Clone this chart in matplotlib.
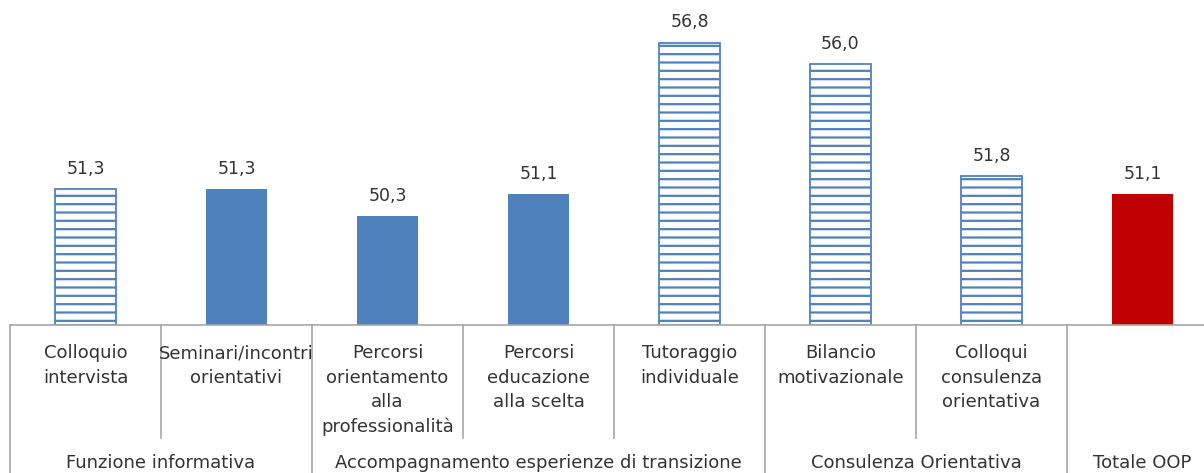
import matplotlib
matplotlib.use('Agg')
import matplotlib.pyplot as plt
import matplotlib.transforms as mtransforms

plt.rcParams['font.family'] = ['DejaVu Sans']
plt.rcParams['hatch.linewidth'] = 1.6
plt.rcParams['hatch.color'] = '#4f81bd'

# dati
categorie = ['Colloquio\nintervista', 'Seminari/incontri\norientativi',
             'Percorsi\norientamento\nalla\nprofessionalità',
             'Percorsi\neducazione\nalla scelta', 'Tutoraggio\nindividuale',
             'Bilancio\nmotivazionale', 'Colloqui\nconsulenza\norientativa', '']
valori = [51.3, 51.3, 50.3, 51.1, 56.8, 56.0, 51.8, 51.1]
stili = ['hatch', 'solid', 'solid', 'solid', 'hatch', 'hatch', 'hatch', 'red']
gruppi = ['Funzione informativa', 'Accompagnamento esperienze di transizione',
          'Consulenza Orientativa', 'Totale OOP']
gruppi_n = [2, 3, 2, 1]

BLU = '#4f81bd'
ROSSO = '#c00000'
GRIGIO = '#a6a6a6'
TESTO = '#333333'

fig = plt.figure(figsize=(12.04, 4.73), dpi=100)
W, H = 1204.0, 473.0
base_px = 325.0
ymin, ymax = 46.2, 58.0
px_unit = 26.65
ax_h = (ymax - ymin) * px_unit
ax = fig.add_axes([10 / W, (H - base_px) / H, 8 * 151 / W, ax_h / H])

x = list(range(len(valori)))
for xi, v, s in zip(x, valori, stili):
    if s == 'hatch':
        ax.bar(xi, v - ymin, bottom=ymin, width=0.41, facecolor='white',
               edgecolor=BLU, hatch='--', linewidth=1.3)
    elif s == 'solid':
        ax.bar(xi, v - ymin, bottom=ymin, width=0.41, color=BLU)
    else:
        ax.bar(xi, v - ymin, bottom=ymin, width=0.41, color=ROSSO)
    ax.annotate(f'{v:.1f}'.replace('.', ','), (xi, v), xytext=(0, 8),
                textcoords='offset points', ha='center', va='bottom',
                fontsize=12.5, color=TESTO)

ax.set_xlim(-0.5, 7.5)
ax.set_ylim(ymin, ymax)
for sp in ['top', 'right', 'left']:
    ax.spines[sp].set_visible(False)
ax.spines['bottom'].set_color(GRIGIO)
ax.spines['bottom'].set_linewidth(1.2)
ax.set_yticks([])
ax.set_xticks([])

trans = mtransforms.blended_transform_factory(ax.transData, ax.transAxes)
y_corto = -(438 - base_px) / ax_h
y_lungo = -(H - base_px + 5) / ax_h

# etichette categorie
for xi, c in zip(x, categorie):
    ax.text(xi, -(344 - base_px) / ax_h, c, transform=trans, ha='center',
            va='top', fontsize=13, color=TESTO, linespacing=1.47)

# separatori e gruppi
confini_gruppo = [-0.5]
for n in gruppi_n:
    confini_gruppo.append(confini_gruppo[-1] + n)
for b in range(len(valori)):
    xb = b - 0.5
    y2 = y_lungo if xb in confini_gruppo else y_corto
    ax.plot([xb, xb], [0, y2], transform=trans, color=GRIGIO, lw=1.2,
            clip_on=False)
for g, a, b in zip(gruppi, confini_gruppo[:-1], confini_gruppo[1:]):
    ax.text((a + b) / 2, -(463 - base_px) / ax_h, g, transform=trans,
            ha='center', va='center', fontsize=13, color=TESTO)

fig.savefig('out.png', dpi=100)
